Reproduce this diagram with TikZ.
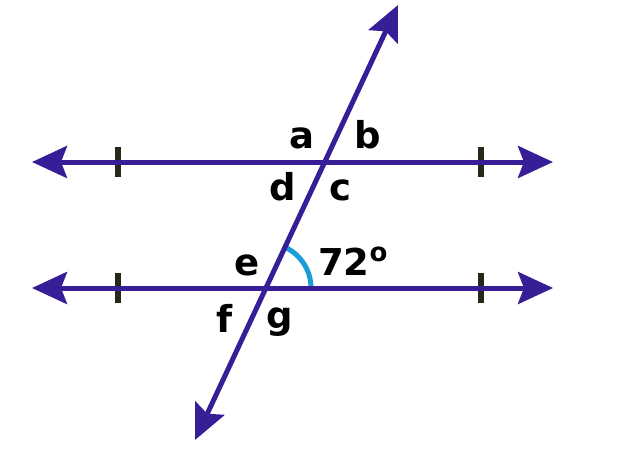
\documentclass[tikz,border=0pt]{standalone}
\usepackage{fontspec}
\setmainfont{DejaVu Sans}
\usetikzlibrary{arrows.meta}
\definecolor{lineblue}{RGB}{55,30,150}
\definecolor{arccyan}{RGB}{27,155,215}
\definecolor{tickdark}{RGB}{40,40,25}
\begin{document}
\begin{tikzpicture}[x=1pt,y=-1pt,
  ln/.style={draw=lineblue,line width=5pt,
    {Stealth[length=35pt,width=32pt,inset=6pt]}-{Stealth[length=35pt,width=32pt,inset=6pt]}},
  tr/.style={draw=lineblue,line width=5pt,
    {Stealth[length=35pt,width=32pt,inset=6pt]}-{Stealth[length=35pt,width=32pt,inset=6pt]}},
  tickmark/.style={draw=tickdark,line width=6pt},
  lbl/.style={inner sep=0pt,anchor=base,font=\fontsize{37}{40}\selectfont\bfseries},
  angarc/.style={draw=arccyan,line width=5pt}]
\path[use as bounding box] (0,0) rectangle (640,469);
% line endpoints
\coordinate (L1a) at (32,162);
\coordinate (L1b) at (553,162);
\coordinate (L2a) at (32,288);
\coordinate (L2b) at (553,288);
\coordinate (Ta) at (195,440);
\coordinate (Tb) at (398,5);
\coordinate (P) at (266,288);
% ticks
\coordinate (t1a) at (118,147); \coordinate (t1b) at (118,177);
\coordinate (t2a) at (481,147); \coordinate (t2b) at (481,177);
\coordinate (t3a) at (118,273); \coordinate (t3b) at (118,303);
\coordinate (t4a) at (481,273); \coordinate (t4b) at (481,303);
\draw[tickmark] (t1a) -- (t1b);
\draw[tickmark] (t2a) -- (t2b);
\draw[tickmark] (t3a) -- (t3b);
\draw[tickmark] (t4a) -- (t4b);
% angle arc
\draw[angarc] ([xshift=45pt]P) arc[start angle=0,end angle=64.8,radius=45pt];
% lines
\draw[ln] (L1a) -- (L1b);
\draw[ln] (L2a) -- (L2b);
\draw[tr] (Ta) -- (Tb);
% labels
\node[lbl] (a) at (302,148) {a};
\node[lbl] (b) at (368,148) {b};
\node[lbl] (d) at (283,200) {d};
\node[lbl] (c) at (340,200) {c};
\node[lbl] (e) at (247,275) {e};
\node[lbl,anchor=base west] (ang) at (318,275) {72\raisebox{14pt}{\fontsize{26}{28}\selectfont o}};
\node[lbl] (f) at (225,332) {f};
\node[lbl] (g) at (280,328) {g};
\end{tikzpicture}
\end{document}
